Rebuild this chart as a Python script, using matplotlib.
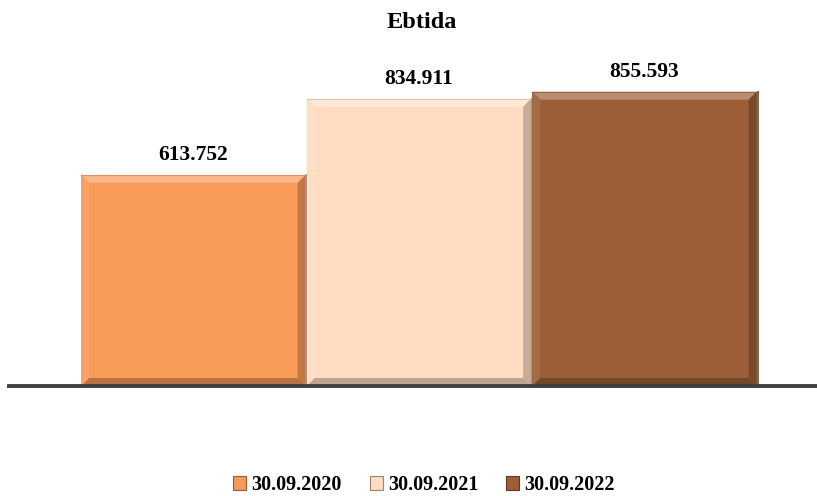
import numpy as np
import matplotlib.pyplot as plt
from matplotlib.patches import Polygon, Rectangle
from matplotlib.colors import to_rgb

# data
series = ["30.09.2020", "30.09.2021", "30.09.2022"]
values = [613.752, 834.911, 855.593]
colors = ["#F89A58", "#FDDCC1", "#9C5E36"]
labels = ["613.752", "834.911", "855.593"]


def shade(c, f):
    r = np.array(to_rgb(c))
    if f > 0:
        return tuple(r + (1 - r) * f)
    return tuple(r * (1 + f))


def bevel_bar(ax, xc, h, w, color, bx, by):
    x0, x1 = xc - w / 2, xc + w / 2
    ax.add_patch(Rectangle((x0, 0), w, h, facecolor=color, edgecolor="none", zorder=2))
    # top, left, right, bottom bevels
    top = [(x0, h), (x1, h), (x1 - bx, h - by), (x0 + bx, h - by)]
    left = [(x0, 0), (x0, h), (x0 + bx, h - by), (x0 + bx, by)]
    right = [(x1, 0), (x1, h), (x1 - bx, h - by), (x1 - bx, by)]
    bottom = [(x0, 0), (x1, 0), (x1 - bx, by), (x0 + bx, by)]
    ax.add_patch(Polygon(top, closed=True, facecolor=shade(color, 0.3), edgecolor="none", zorder=3))
    ax.add_patch(Polygon(left, closed=True, facecolor=shade(color, 0.08), edgecolor="none", zorder=3))
    ax.add_patch(Polygon(right, closed=True, facecolor=shade(color, -0.22), edgecolor="none", zorder=3))
    ax.add_patch(Polygon(bottom, closed=True, facecolor=shade(color, -0.25), edgecolor="none", zorder=3))
    # shadow outline
    ax.plot([x1 + 0.004, x1 + 0.004], [0, h], color=shade(color, -0.55), lw=1.5, zorder=1, alpha=0.7)
    ax.plot([x0, x1], [h, h], color=shade(color, -0.2), lw=0.8, zorder=4, alpha=0.6)


plt.rcParams["font.family"] = ["Liberation Serif", "DejaVu Serif"]

fig = plt.figure(figsize=(8.17, 4.96), dpi=100)
ax = fig.add_axes([9 / 817, (496 - 386) / 496, 808 / 817, 344 / 496])

x = np.arange(len(values))
w = 0.995
ax.set_xlim(-0.818, 2.765)
ax.set_ylim(0, 1000)

# bevel sizes in data units (~8 px)
bx = 8 / 225.5
by = 8 / 0.344

for xi, v, c in zip(x, values, colors):
    bevel_bar(ax, xi, v, w, c, bx, by)

for xi, v, lab in zip(x, values, labels):
    ax.text(xi, v + 57, lab, ha="center", va="center", fontsize=15.5, fontweight="bold")

ax.axhline(0, color="#404040", lw=2.8, zorder=5, clip_on=False)
ax.axis("off")

fig.text(422 / 817, 1 - 23 / 496, "Ebtida", ha="center", va="center", fontsize=17.5, fontweight="bold")

# legend
handles = [Rectangle((0, 0), 1, 1, facecolor=c, edgecolor=shade(c, -0.4), lw=0.8) for c in colors]
fig.legend(handles, series, loc="center", bbox_to_anchor=(424 / 817, 1 - 485 / 496), ncol=3,
           frameon=False, prop={"weight": "bold", "size": 14.5}, handlelength=0.65, handleheight=0.65,
           handletextpad=0.25, columnspacing=1.4)

fig.savefig("out.png", dpi=100)
